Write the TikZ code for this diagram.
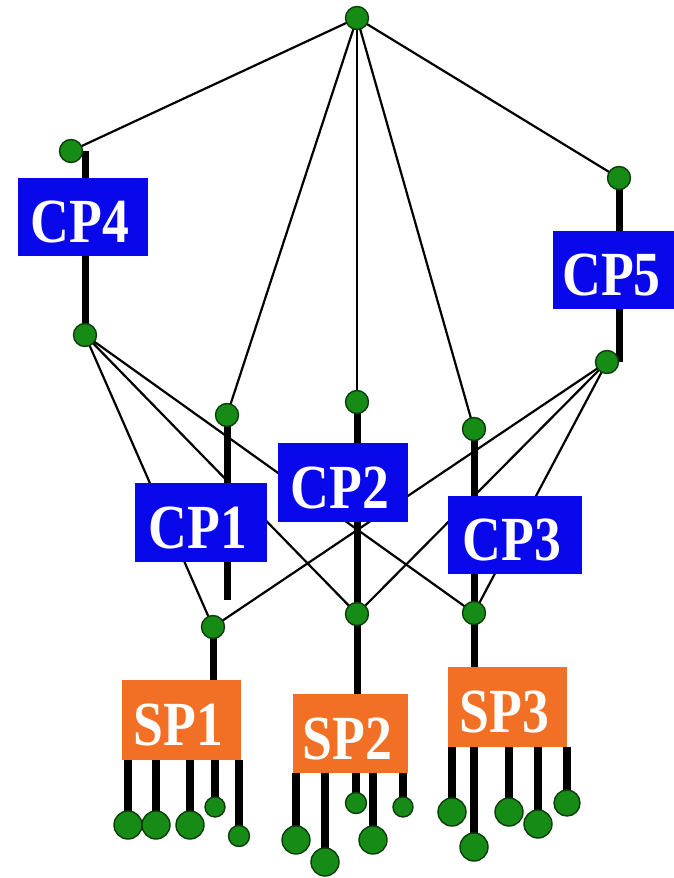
\documentclass[tikz,border=0pt]{standalone}
\usepackage{fontspec}
\setmainfont{Liberation Serif}
\usepackage{graphicx}
\definecolor{cpblue}{RGB}{8,8,235}
\definecolor{sporange}{RGB}{242,112,38}
\definecolor{dotgreen}{RGB}{22,140,22}
\definecolor{dotedge}{RGB}{12,60,12}
\newcommand{\boxlab}[1]{\raisebox{-5pt}[\height][\depth]{\scalebox{0.88}[1.03]{#1}}\kern6pt}
\pgfdeclarelayer{bg}
\pgfdeclarelayer{mid}
\pgfsetlayers{bg,mid,main}
\begin{document}
\begin{tikzpicture}[x=1pt,y=-1pt,
  dot/.style={circle,fill=dotgreen,draw=dotedge,line width=1.4pt,inner sep=0pt,minimum size=#1},
  dot/.default=23pt,
  procbox/.style={rectangle,inner sep=0pt,text=white,font=\fontsize{61}{61}\selectfont\bfseries},
  cpbox/.style={procbox,fill=cpblue},
  spbox/.style={procbox,fill=sporange},
  thinlink/.style={draw=black,line width=2.2pt},
  thicklink/.style={draw=black,line width=7pt},
  leaflink/.style={draw=black,line width=8pt}]
\useasboundingbox (0,0) rectangle (674,878);
\begin{pgfonlayer}{bg}
\fill[white] (0,0) rectangle (674,878);
\end{pgfonlayer}

% boxes
\node[cpbox,minimum width=130pt,minimum height=78pt] (cp4) at (83,217) {\boxlab{CP4}};
\node[cpbox,minimum width=123pt,minimum height=78pt] (cp5) at (614.5,270) {\boxlab{CP5}};
\node[cpbox,minimum width=132pt,minimum height=79pt] (cp1) at (201,522.5) {\boxlab{CP1}};
\node[cpbox,minimum width=130pt,minimum height=79pt] (cp2) at (343,482.5) {\boxlab{CP2}};
\node[cpbox,minimum width=134pt,minimum height=78pt] (cp3) at (515,535) {\boxlab{CP3}};
\node[spbox,minimum width=119pt,minimum height=80pt] (sp1) at (181.5,720) {\boxlab{SP1}};
\node[spbox,minimum width=115pt,minimum height=79pt] (sp2) at (350.5,733.5) {\boxlab{SP2}};
\node[spbox,minimum width=119pt,minimum height=80pt] (sp3) at (507.5,707) {\boxlab{SP3}};

% upper dots
\node[dot] (t) at (357,18) {};
\node[dot] (n4a) at (71,151) {};
\node[dot] (n4b) at (85,335) {};
\node[dot] (n5a) at (619,178) {};
\node[dot] (n5b) at (607,362) {};
\node[dot] (n1a) at (227,415) {};
\node[dot] (n2a) at (357,402) {};
\node[dot] (n3a) at (474,429) {};
\node[dot] (s1) at (213,627) {};
\node[dot] (s2) at (357,614) {};
\node[dot] (s3) at (474,613) {};
\coordinate (c1end) at (227,600);

% leaves
\node[dot=28pt] (l11) at (128,825) {};
\node[dot=28pt] (l12) at (156,825) {};
\node[dot=28pt] (l13) at (190,825) {};
\node[dot=20pt] (l14) at (215,807) {};
\node[dot=21pt] (l15) at (239,836) {};
\node[dot=28pt] (l21) at (296,840) {};
\node[dot=28pt] (l22) at (325,862) {};
\node[dot=21pt] (l23) at (356,803) {};
\node[dot=28pt] (l24) at (373,840) {};
\node[dot=20pt] (l25) at (403,807) {};
\node[dot=28pt] (l31) at (452,812) {};
\node[dot=28pt] (l32) at (474,847) {};
\node[dot=28pt] (l33) at (509,812) {};
\node[dot=28pt] (l34) at (538,824) {};
\node[dot=26pt] (l35) at (567,803) {};

\begin{pgfonlayer}{bg}
\draw[thinlink] (t.center) -- (n4a.center);
\draw[thinlink] (t.center) -- (n5a.center);
\draw[thinlink] (t.center) -- (n1a.center);
\draw[thinlink] (t.center) -- (n2a.center);
\draw[thinlink] (t.center) -- (n3a.center);
\draw[thinlink] (n4b.center) -- (s1.center);
\draw[thinlink] (n4b.center) -- (s2.center);
\draw[thinlink] (n4b.center) -- (s3.center);
\draw[thinlink] (n5b.center) -- (s1.center);
\draw[thinlink] (n5b.center) -- (s2.center);
\draw[thinlink] (n5b.center) -- (s3.center);
\end{pgfonlayer}

\begin{pgfonlayer}{mid}
\draw[thicklink] (n4b |- n4a) -- (n4b.center);
\draw[thicklink] (n5a.center) -- (n5a |- n5b);
\draw[thicklink] (n1a.center) -- (c1end);
\draw[thicklink] (n2a.center) -- (n2a |- sp2.north);
\draw[thicklink] (n3a.center) -- (n3a |- sp3.north);
\draw[thicklink] (s1.center) -- (s1 |- sp1.north);
\foreach \l in {l11,l12,l13,l14,l15}
  \draw[leaflink] (\l |- sp1.south) -- (\l.center);
\foreach \l in {l21,l22,l23,l24,l25}
  \draw[leaflink] (\l |- sp2.south) -- (\l.center);
\foreach \l in {l31,l32,l33,l34,l35}
  \draw[leaflink] (\l |- sp3.south) -- (\l.center);
\end{pgfonlayer}
\end{tikzpicture}
\end{document}
